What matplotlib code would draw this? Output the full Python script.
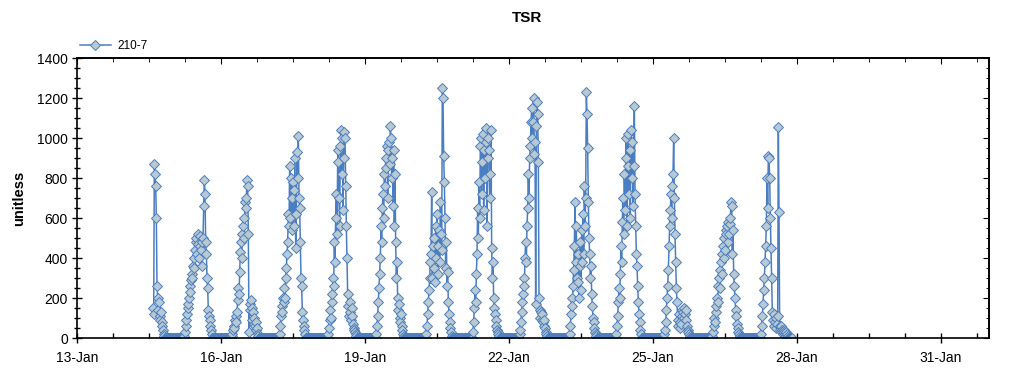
import numpy as np
import pandas as pd
import matplotlib
matplotlib.use("Agg")
import matplotlib.pyplot as plt
import matplotlib.dates as mdates
from matplotlib.ticker import MultipleLocator

plt.rcParams['font.family'] = ['Liberation Sans', 'DejaVu Sans']

# TSR readings, 20-min samples, one list per day (start time of first sample)
starts = ["2014-01-14 14:00", "2014-01-15 05:40", "2014-01-16 05:20", "2014-01-17 05:20",
          "2014-01-18 05:40", "2014-01-19 05:40", "2014-01-20 06:40", "2014-01-21 06:00",
          "2014-01-22 05:20", "2014-01-23 06:20", "2014-01-24 05:40", "2014-01-25 05:40",
          "2014-01-26 05:40", "2014-01-27 06:00"]

jan14 = [150, 120, 870, 820, 760, 600, 260, 200, 140, 180, 110, 90, 130, 80, 60, 40, 20, 10, 0]
jan15 = [10, 30, 60, 90, 120, 150,
         170, 200, 260, 230, 290, 320,
         300, 360, 400, 350, 440, 480,
         500, 420, 470, 520, 400, 460,
         510, 440, 480, 360, 500, 660,
         790, 720, 480, 420, 300, 250,
         140, 110, 90, 60, 40, 20, 0]
jan16 = [10, 20, 40, 60, 50, 90,
         110, 80, 130, 190, 250, 220,
         330, 430, 480, 400, 520, 560,
         600, 500, 680, 650, 700, 790,
         760, 520, 30, 170, 140, 190,
         150, 90, 130, 70, 100, 60,
         80, 40, 50, 20, 10, 0]
jan17 = [20, 60, 110, 160, 130, 200,
         180, 250, 200, 300, 350, 420,
         480, 620, 560, 860, 600, 800,
         700, 540, 780, 560, 740, 900,
         450, 620, 930, 800, 1010, 700,
         650, 480, 300, 260, 130, 90,
         60, 40, 20, 0]
jan18 = [20, 50, 90, 140, 100, 180,
         220, 300, 260, 480, 380, 600,
         720, 520, 880, 940, 700, 560,
         960, 1040, 820, 1000, 640, 900,
         1030, 1000, 760, 560, 400, 220,
         160, 110, 180, 130, 90, 150,
         110, 70, 50, 40, 30, 20,
         10, 0]
jan19 = [20, 60, 110, 180, 250, 320,
         400, 560, 480, 650, 720, 600,
         820, 760, 900, 850, 960, 700,
         940, 980, 870, 1060, 1000, 800,
         900, 660, 940, 560, 820, 480,
         300, 380, 200, 140, 170, 100,
         80, 120, 60, 40, 20, 10, 0]
jan20 = [20, 60, 120, 180, 240, 300,
         380, 420, 730, 300, 460, 350,
         500, 280, 560, 400, 620, 320,
         460, 540, 380, 680, 520, 440,
         1250, 1200, 910, 780, 600, 350,
         480, 260, 330, 180, 120, 80,
         50, 30, 10, 0]
jan21 = [30, 80, 150, 240, 180, 320,
         420, 650, 500, 780, 600, 960,
         1000, 720, 880, 1020, 640, 940,
         800, 980, 1050, 560, 900, 1000,
         940, 700, 820, 1040, 450, 300,
         380, 200, 150, 120, 90, 60,
         40, 30, 20, 10, 0]
jan22 = [20, 40, 80, 130, 180, 220,
         300, 260, 400, 480, 380, 560,
         650, 820, 700, 900, 960, 1080,
         1150, 1000, 1080, 1200, 920, 980,
         170, 1060, 1180, 1120, 880, 200,
         140, 100, 130, 90, 120, 80,
         60, 90, 50, 30, 20, 10, 0]
jan23 = [20, 60, 120, 200, 160, 260,
         340, 460, 680, 380, 560, 300,
         280, 420, 200, 360, 480, 240,
         540, 380, 620, 420, 760, 560,
         700, 1230, 1120, 950, 680, 500,
         420, 300, 360, 220, 160, 100,
         80, 50, 30, 20, 10, 0]
jan24 = [20, 60, 110, 180, 250, 200,
         320, 460, 380, 580, 700, 520,
         820, 640, 900, 1000, 560, 860,
         1020, 720, 940, 600, 1040, 800,
         980, 660, 860, 1160, 720, 560,
         420, 360, 260, 180, 120, 80,
         40, 20, 0]
jan25 = [20, 40, 80, 140, 200, 260,
         340, 460, 560, 640, 720, 600,
         760, 820, 1000, 700, 520, 380,
         250, 180, 90, 60, 120, 80,
         50, 70, 110, 140, 130, 100,
         150, 120, 90, 140, 60, 40,
         30, 20, 10, 0]
jan26 = [10, 30, 60, 100, 80, 130,
         160, 200, 180, 260, 300, 250,
         340, 380, 320, 420, 460, 400,
         500, 440, 540, 520, 560, 480,
         580, 520, 570, 600, 680, 660,
         420, 540, 320, 260, 200, 140,
         110, 70, 50, 30, 20, 10, 0]
jan27 = [20, 60, 110, 170, 240, 300,
         380, 460, 560, 800, 650, 910,
         900, 800, 600, 450, 300, 130,
         90, 60, 120, 80, 50, 100,
         70, 110, 1057, 630, 60, 40,
         60, 40, 30, 20, 40, 30,
         20, 30, 10, 20, 10, 0,
         0, 0, 0, 0, 0]

days = [jan14, jan15, jan16, jan17, jan18, jan19, jan20, jan21,
        jan22, jan23, jan24, jan25, jan26, jan27]

parts = []
for s, vals in zip(starts, days):
    idx = pd.date_range(s, periods=len(vals), freq="20min")
    parts.append(pd.Series(vals, index=idx, dtype=float))
tsr = pd.concat(parts)
# night readings are zero
grid = pd.date_range(tsr.index[0], tsr.index[-1], freq="20min")
tsr = tsr.reindex(grid, fill_value=0.0)

line_col = "#4a7ec2"
face_col = "#b8c9d4"

fig = plt.figure(figsize=(10.24, 3.75), dpi=100)
ax = fig.add_axes([77 / 1024, 1 - 338 / 375, 912 / 1024, 280 / 375])

ax.plot(tsr.index, tsr.values, color=line_col, lw=1.1, marker="D", ms=5.2,
        mfc=face_col, mec=line_col, mew=0.7, label="210-7")

ax.set_xlim(pd.Timestamp("2014-01-13"), pd.Timestamp("2014-02-01"))
ax.set_ylim(0, 1400)

ax.xaxis.set_major_locator(MultipleLocator(3))
ax.xaxis.set_minor_locator(MultipleLocator(0.75))
ax.xaxis.set_major_formatter(mdates.DateFormatter("%d-%b"))
ax.yaxis.set_major_locator(MultipleLocator(200))
ax.yaxis.set_minor_locator(MultipleLocator(50))

ax.tick_params(axis="x", which="major", direction="inout", length=7, width=1, labelsize=10, pad=6)
ax.tick_params(axis="x", which="minor", direction="in", length=3.5, width=1)
ax.tick_params(axis="y", which="major", direction="inout", length=7, width=1, labelsize=10, pad=3)
ax.tick_params(axis="y", which="minor", direction="inout", length=5, width=1)

# inward ticks on top and right
top = ax.secondary_xaxis("top")
top.xaxis.set_major_locator(MultipleLocator(3))
top.xaxis.set_minor_locator(MultipleLocator(0.75))
top.tick_params(which="both", direction="in", labeltop=False)
top.tick_params(which="major", length=4)
top.tick_params(which="minor", length=3)
right = ax.secondary_yaxis("right")
right.yaxis.set_major_locator(MultipleLocator(200))
right.yaxis.set_minor_locator(MultipleLocator(50))
right.tick_params(which="both", direction="in", labelright=False)
right.tick_params(which="major", length=4)
right.tick_params(which="minor", length=2.5)

for sp in ax.spines.values():
    sp.set_linewidth(1.2)
top.spines["top"].set_linewidth(1.2)
right.spines["right"].set_linewidth(1.2)

ax.set_ylabel("unitless", fontsize=10.5, fontweight="bold", labelpad=8)
fig.text(527 / 1024, 1 - 18 / 375, "TSR", ha="center", va="center", fontsize=11, fontweight="bold")

ax.legend(loc="lower left", bbox_to_anchor=(80 / 1024, 1 - 52 / 375), bbox_transform=fig.transFigure,
          frameon=False, fontsize=8.5, handlelength=2.6, handletextpad=0.6, borderpad=0, borderaxespad=0)

fig.savefig("out.png", dpi=100)
